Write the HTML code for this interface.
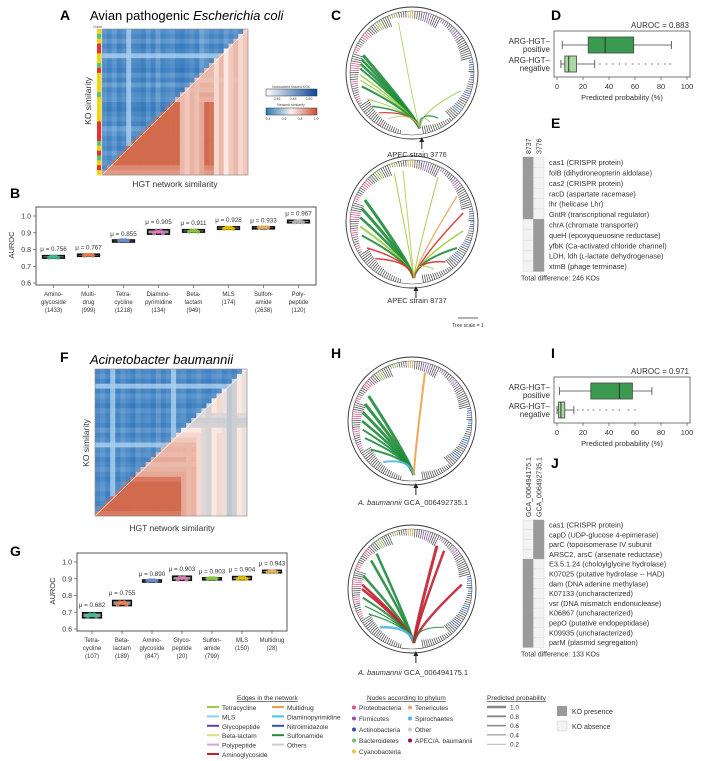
<!DOCTYPE html>
<html><head><meta charset="utf-8">
<style>
html,body{margin:0;padding:0;background:#fff;}
svg{display:block;font-family:"Liberation Sans",Arial,sans-serif;}
</style></head>
<body>
<svg id="fig" width="701" height="761" viewBox="0 0 701 761" xmlns="http://www.w3.org/2000/svg">
<g id="static">
<text x="60" y="20" font-size="14" font-weight="bold">A</text>
<text x="90" y="20" font-size="13">Avian pathogenic <tspan font-style="italic">Escherichia coli</tspan></text>
<text x="93" y="28" font-size="3.5" fill="#555">Clade</text>
<text x="175" y="187" font-size="8.5" text-anchor="middle" fill="#333">HGT network similarity</text>
<text x="0" y="0" font-size="8.5" text-anchor="middle" fill="#333" transform="translate(91,101) rotate(-90)">KO similarity</text>
<text x="10" y="198" font-size="14" font-weight="bold">B</text>
<text x="331" y="20" font-size="14" font-weight="bold">C</text>
<text x="417" y="157" font-size="7.5" text-anchor="middle" fill="#333">APEC strain 3776</text>
<text x="417" y="303" font-size="7.5" text-anchor="middle" fill="#333">APEC strain 8737</text>
<line x1="458" y1="318" x2="478" y2="318" stroke="#333" stroke-width="0.8"/>
<text x="468" y="327" font-size="5" text-anchor="middle" fill="#333">Tree scale = 1</text>
<text x="551" y="20" font-size="14" font-weight="bold">D</text>
<text x="551" y="128" font-size="14" font-weight="bold">E</text>
<text x="60" y="362" font-size="14" font-weight="bold">F</text>
<text x="90" y="364" font-size="13" font-style="italic">Acinetobacter baumannii</text>
<text x="172" y="531" font-size="8.5" text-anchor="middle" fill="#333">HGT network similarity</text>
<text x="0" y="0" font-size="8.5" text-anchor="middle" fill="#333" transform="translate(89,443) rotate(-90)">KO similarity</text>
<text x="10" y="556" font-size="14" font-weight="bold">G</text>
<text x="331" y="358" font-size="14" font-weight="bold">H</text>
<text x="413" y="505" font-size="7.5" text-anchor="middle" fill="#333"><tspan font-style="italic">A. baumannii</tspan> GCA_006492735.1</text>
<text x="413" y="675" font-size="7.5" text-anchor="middle" fill="#333"><tspan font-style="italic">A. baumannii</tspan> GCA_006494175.1</text>
<text x="551" y="358" font-size="14" font-weight="bold">I</text>
<text x="551" y="468" font-size="14" font-weight="bold">J</text>
</g>
</svg>
<script>
const NS='http://www.w3.org/2000/svg';
const svg=document.getElementById('fig');
function mk(tag,attrs,parent,text){const e=document.createElementNS(NS,tag);for(const k in attrs)e.setAttribute(k,attrs[k]);if(text!==undefined)e.textContent=text;(parent||svg).appendChild(e);return e;}

/* ---------- Panel B data ---------- */
const bCats=['Amino-|glycoside|(1433)','Multi-|drug|(999)','Tetra-|cycline|(1218)','Diamino-|pyrimidine|(134)','Beta-|lactam|(949)','MLS|(174)','Sulfon-|amide|(2638)','Poly-|peptide|(120)'];
const bMeans=[0.756,0.767,0.855,0.905,0.911,0.928,0.933,0.967];
const bSpread=[0.012,0.008,0.003,0.022,0.012,0.012,0.004,0.012];
const bColors=['#3cbf8f','#f07f50','#6f8fd8','#e07ab8','#8ccf3f','#f0c800','#e8b860','#b8b8b8'];
/* ---------- Panel G data ---------- */
const gCats=['Tetra-|cycline|(107)','Beta-|lactam|(189)','Amino-|glycoside|(847)','Glyco-|peptide|(20)','Sulfon-|amide|(799)','MLS|(150)','Multidrug|(28)'];
const gMeans=[0.682,0.755,0.890,0.903,0.903,0.904,0.943];
const gSpread=[0.025,0.025,0.004,0.02,0.004,0.015,0.012];
const gColors=['#3cbf8f','#f07f50','#6f8fd8','#e07ab8','#8ccf3f','#f0c800','#e8b860'];
const aurocTicks=[0.6,0.7,0.8,0.9,1.0];

function auroc(name,box,cats,means,spread,colors){
  const g=mk('g',{});
  
  
  const y=v=>box.y1-(v-0.6)/0.4*(box.y1-box.y0t);
  const x=i=>box.x0+(i+0.5)*(box.x1-box.x0)/cats.length;
  const r=mk('rect',{x:box.x0,y:box.top,width:box.x1-box.x0,height:box.y1-box.top+2,fill:'none',stroke:'#555','stroke-width':1},g);
  
  aurocTicks.forEach(t=>{
    mk('line',{x1:box.x0-3,x2:box.x0,y1:y(t),y2:y(t),stroke:'#555','stroke-width':0.7},g);
    const tl=mk('text',{x:box.x0-5,y:y(t)+2.5,'font-size':7,'text-anchor':'end',fill:'#333'},g,t.toFixed(1));
    
  });
  const yt=mk('text',{x:0,y:0,'font-size':7.5,'text-anchor':'middle',fill:'#333',transform:`translate(${box.x0-22},${(box.top+box.y1)/2}) rotate(-90)`},g,'AUROC');
  
  const bw=(box.x1-box.x0)/cats.length*0.62;
  cats.forEach((c,i)=>{
    const cx=x(i),m=means[i],s=spread[i];
    mk('line',{x1:cx,x2:cx,y1:box.y1+2,y2:box.y1+5,stroke:'#555','stroke-width':0.7},g);
    const b=mk('rect',{x:cx-bw/2,y:y(m+s*0.6),width:bw,height:Math.max(2,y(m-s*0.6)-y(m+s*0.6)),fill:'#999',stroke:'#111','stroke-width':1.6},g);
    
    for(let k=-2;k<=2;k++){
      const d=mk('circle',{cx:cx+k*2.2,cy:y(m+(k%2?1:-1)*s*0.4*(Math.abs(k)/2)),r:2,fill:colors[i],opacity:0.85},g);
      
    }
    const ml=mk('text',{x:cx,y:y(m+s)-4,'font-size':6.3,'text-anchor':'middle',fill:'#333'},g,'μ = '+m.toFixed(3));
    
    c.split('|').forEach((ln,j)=>{
      const t=mk('text',{x:cx,y:box.y1+13+j*8,'font-size':6,'text-anchor':'middle',fill:'#333'},g,ln);
      
    });
  });
}
auroc('panel-b-auroc-chart',{x0:36,x1:316,top:207,y0t:216,y1:283},bCats,bMeans,bSpread,bColors);
auroc('panel-g-auroc-chart',{x0:77,x1:287,top:553,y0t:562,y1:629},gCats,gMeans,gSpread,gColors);

/* ---------- Heatmaps A and F ---------- */
const aKO=[0.6,0.8,0.5,0.9,0.7,0.2,0.75,0.8,0.95,0.55,0.9,0.4,0.85,0.7,0.6,0.9,1,0.8,0.65,0.9,0.3,0.6,0.85,0.7,0.9,0.5,0.8,0.6,0.9,0.7];
const aRedRow=[0.7,0.72,0.75,0.95,0.92,0.9,0.85,0.72,0.7,0.7,0.68,0.72,0.7,0.75,0.72,0.95,0.95,0.95,0.95,0.95,0.95,0.95,0.95,0.95,0.95,0.95,0.95,0.95,0.85,0.8];
const aRedCol=[0.95,0.95,0.95,0.95,0.95,0.95,0.95,0.95,0.95,0.95,0.95,0.95,0.95,0.95,0.95,0.95,0.7,0.65,0.72,0.68,0.75,0.95,0.92,0.6,0.7,0.55,0.65,0.7,0.6,0.65];
const aClade=['#f2d600','#60c070','#f2d600','#e83030','#e83030','#f2d600','#f2d600','#60c070','#e83030','#f2d600','#f2d600','#f2d600','#f2d600','#60c070','#f2d600','#f2d600','#f2d600','#f2d600','#f2d600','#e83030','#e83030','#e83030','#e83030','#60c070','#f2d600','#e83030','#60c070','#f2d600','#e83030','#f2d600'];
const fKO=[0.8,0.6,0.9,0.2,0.85,0.55,0.75,0.95,0.6,0.8,0.7,0.9,0.5,0.85,0.65,0.1,0.7,0.6,0.9,0.75,0.55,0.8,0.9,0.7,0.6,0.85,0.7,0.9,0.6,0.8];
const fRedRow=[0.7,0.7,0.95,0.95,0.9,0.95,0.95,0.95,0.95,0.45,0.4,0.42,0.55,0.6,0.65,0.7,0.72,0.7,0.75,0.7,0.72,0.75,0.9,0.95,0.95,0.95,0.95,0.95,0.95,0.9];
const fRedCol=[0.95,0.95,0.95,0.95,0.95,0.95,0.95,0.95,0.95,0.95,0.95,0.95,0.95,0.95,0.95,0.95,0.95,0.75,0.7,0.72,0.6,0.45,0.42,0.55,0.6,0.5,0.35,0.4,0.55,0.5];
function blue(v){const u=Math.min(1,Math.max(0,v));return `rgb(${Math.round(175-150*u)},${Math.round(210-110*u)},${Math.round(240-65*u)})`;}
function red(v){const t=Math.min(1,Math.max(0,v));if(t>0.55){const u=(t-0.55)/0.45;return `rgb(${Math.round(250-(250-205)*u)},${Math.round(232-(232-90)*u)},${Math.round(225-(225-60)*u)})`;}const u=t/0.55;return `rgb(${Math.round(90+160*u)},${Math.round(140+92*u)},${Math.round(175+50*u)})`;}
function heat(name,x0,y0,w,h,ko,rr,rc,clade){
  const g=mk('g',{});
  
  const n=ko.length,cw=w/n,ch=h/n;
  for(let r=0;r<n;r++)for(let c=0;c<n;c++){
    const col=(r+c<n-1)?blue((ko[r]+ko[c])/2*(ko[r]<0.25||ko[c]<0.25?0.3:0.85)):red(Math.min(rr[r],rc[c]));
    const e=mk('rect',{x:x0+c*cw,y:y0+r*ch,width:cw+0.3,height:ch+0.3,fill:col},g);
    
  }
  if(clade){clade.forEach((c,i)=>{const e=mk('rect',{x:x0-5,y:y0+i*ch,width:4,height:ch+0.3,fill:c},g);});}
  mk('line',{x1:x0,y1:y0+h,x2:x0+w,y2:y0,stroke:'#fff','stroke-width':0.6},g);
  mk('rect',{x:x0,y:y0,width:w,height:h,fill:'none',stroke:'#888','stroke-width':0.6},g);
}
heat('panel-a-heatmap',102,29,146,146,aKO,aRedRow,aRedCol,aClade);
heat('panel-f-heatmap',95,369,152,147,fKO,fRedRow,fRedCol,null);

/* color bar legends for A */
(function(){
  const g=mk('g',{});
  const d1=mk('defs',{},g);
  const lg1=mk('linearGradient',{id:'gb'},d1);mk('stop',{offset:'0','stop-color':'#fff'},lg1);mk('stop',{offset:'1','stop-color':'#0a4696'},lg1);
  const lg2=mk('linearGradient',{id:'gr'},d1);mk('stop',{offset:'0','stop-color':'#2a7ab0'},lg2);mk('stop',{offset:'0.5','stop-color':'#f7f0ee'},lg2);mk('stop',{offset:'1','stop-color':'#c85030'},lg2);
  mk('text',{x:291,y:88,'font-size':3.5,'text-anchor':'middle',fill:'#444'},g,'Normalized shared KOs');
  mk('rect',{x:266,y:89,width:51,height:7,fill:'url(#gb)',stroke:'#333','stroke-width':0.5},g);
  mk('text',{x:291,y:106,'font-size':3.5,'text-anchor':'middle',fill:'#444'},g,'Network similarity');
  mk('rect',{x:266,y:108,width:51,height:7,fill:'url(#gr)',stroke:'#333','stroke-width':0.5},g);
  ['0.46','0.48','0.50'].forEach((t,i)=>mk('text',{x:277+i*16,y:100,'font-size':3.5,'text-anchor':'middle',fill:'#444'},g,t));
  ['0.4','0.6','0.8','1.0'].forEach((t,i)=>mk('text',{x:268+i*16,y:120,'font-size':3.5,'text-anchor':'middle',fill:'#444'},g,t));
})();

/* ---------- Circular networks ---------- */
const cTopEdges=[[200,'#1e8c3a',3],[195,'#1e8c3a',2.5],[190,'#1e8c3a',2.5],[185,'#1e8c3a',2],[178,'#9acd40',1.5],[172,'#9acd40',1.2],[165,'#1e8c3a',2],[150,'#9acd40',1],[140,'#1e8c3a',1.5],[130,'#d83030',1.2],[118,'#c8c850',1],[255,'#9acd40',0.8],[20,'#9acd40',1],[60,'#1e8c3a',1.2],[70,'#aaa',1]];
const cBotEdges=[[205,'#1e8c3a',3],[195,'#1e8c3a',3],[185,'#1e8c3a',2.5],[175,'#9acd40',2],[165,'#1e8c3a',2],[150,'#d83030',1.5],[135,'#d83030',1.5],[250,'#9acd40',1],[260,'#c8c850',1],[300,'#9acd40',1],[330,'#e8a050',1.2],[350,'#d83030',1.5],[10,'#9acd40',1.5],[30,'#1e8c3a',2],[50,'#d83030',1.5],[65,'#9acd40',1]];
const hTopEdges=[[210,'#1e8c3a',3],[200,'#1e8c3a',3],[190,'#1e8c3a',3],[180,'#1e8c3a',2.5],[170,'#1e8c3a',2],[160,'#1e8c3a',2],[145,'#1e8c3a',2],[125,'#4fb8e0',2],[285,'#f0a040',2]];
const hBotEdges=[[225,'#1e8c3a',2.5],[215,'#1e8c3a',2.5],[195,'#1e8c3a',2.5],[185,'#c02030',2.5],[180,'#c02030',2.5],[170,'#1e8c3a',2],[160,'#1e8c3a',1.2],[150,'#1e8c3a',1.2],[130,'#4fb8e0',2.5],[300,'#c02030',3],[310,'#c02030',2.5],[355,'#c02030',2.5],[50,'#1e8c3a',1]];
const arcColors=[['#d84a80',150,230],['#70a030',230,260],['#c8a030',265,280],['#8050a0',280,330],['#3050a0',340,40]];
function circ(name,cx,cy,r,edges,endAng){
  const g=mk('g',{});
  const pt=(a,rr)=>[cx+rr*Math.cos(a*Math.PI/180),cy+rr*Math.sin(a*Math.PI/180)];
  mk('circle',{cx,cy,r,fill:'none',stroke:'#333','stroke-width':0.9},g);
  mk('circle',{cx,cy,r:r-4,fill:'none',stroke:'#555','stroke-width':0.6},g);
  for(let a=0;a<360;a+=2.2){
    if(a>80&&a<100)continue;
    const L=4+((a*37)%9);
    const [x1,y1]=pt(a,r-4),[x2,y2]=pt(a,r-4-L*0.9);
    let col='#444';arcColors.forEach(([c,s,e])=>{const inr=s<e?(a>=s&&a<=e):(a>=s||a<=e);if(inr&&((a*7)%3<1.5))col=c;});
    const l=mk('line',{x1,y1,x2,y2,stroke:col,'stroke-width':0.7},g);
    
  }
  const [ex,ey]=pt(endAng,r-10);
  edges.forEach(([a,col,w])=>{
    const [sx,sy]=pt(a,r-14);
    const p=mk('path',{d:`M${sx},${sy} Q${(cx+ex)/2+(sx-cx)*0.1},${(cy+ey)/2+10} ${ex},${ey}`,fill:'none',stroke:col,'stroke-width':w,'stroke-opacity':0.9},g);
    
  });
  mk('line',{x1:ex+2,y1:cy+r+10,x2:ex+2,y2:cy+r,stroke:'#222','stroke-width':1},g);
  mk('path',{d:`M${ex-0.5},${cy+r+3} L${ex+2},${cy+r-2} L${ex+4.5},${cy+r+3} Z`,fill:'#222'},g);
}
circ('panel-c-network-3776',412,73,66,cTopEdges,82);
circ('panel-c-network-8737',412,222,66,cBotEdges,88);
circ('panel-h-network-6492735',412,421,64,hTopEdges,88);
circ('panel-h-network-6494175',412,589,64,hBotEdges,88);

/* ---------- Probability box plots D & I ---------- */
const dGroups=['ARG-HGT–|positive','ARG-HGT–|negative'];
const dStats=[[4,24,37,59,88],[3,6,9,15,29]];
const dOut=[33,38,43,48,53,58,63,68,73,78,83,87];
const iStats=[[2,26,48,58,73],[0,1,3,6,13]];
const iOut=[16,20,24,28,33,38,43,48,55,60];
const probTicks=[0,20,40,60,80,100];
function probBox(name,top,auroc,stats,outs,fills){
  const g=mk('g',{});
  const x0=557,x1=687,x=v=>x0+v/100*(x1-x0);const bottom=top+46;
  mk('rect',{x:x0-3,y:top,width:x1-x0+6,height:bottom-top,fill:'none',stroke:'#555','stroke-width':0.8},g);
  const at=mk('text',{x:x1+2,y:top-3,'font-size':8,'text-anchor':'end',fill:'#333'},g,'AUROC = '+auroc);
  
  probTicks.forEach(t=>{mk('line',{x1:x(t),x2:x(t),y1:bottom,y2:bottom+3,stroke:'#555','stroke-width':0.7},g);
    const tl=mk('text',{x:x(t),y:bottom+12,'font-size':7.5,'text-anchor':'middle',fill:'#333'},g,String(t));});
  const xt=mk('text',{x:(x0+x1)/2,y:bottom+23,'font-size':7.5,'text-anchor':'middle',fill:'#333'},g,'Predicted probability (%)');
  
  stats.forEach((s,i)=>{
    const cy=top+14+i*19;
    mk('line',{x1:x(s[0]),x2:x(s[1]),y1:cy,y2:cy,stroke:'#444','stroke-width':0.8},g);
    mk('line',{x1:x(s[3]),x2:x(s[4]),y1:cy,y2:cy,stroke:'#444','stroke-width':0.8},g);
    mk('line',{x1:x(s[0]),x2:x(s[0]),y1:cy-4,y2:cy+4,stroke:'#444','stroke-width':0.8},g);
    mk('line',{x1:x(s[4]),x2:x(s[4]),y1:cy-4,y2:cy+4,stroke:'#444','stroke-width':0.8},g);
    const b=mk('rect',{x:x(s[1]),y:cy-8,width:x(s[3])-x(s[1]),height:16,fill:fills[i],stroke:'#444','stroke-width':0.8},g);
    
    mk('line',{x1:x(s[2]),x2:x(s[2]),y1:cy-8,y2:cy+8,stroke:'#333','stroke-width':1},g);
    dGroups[i].split('|').forEach((ln,j)=>{const t=mk('text',{x:x0-7,y:cy-1+j*8,'font-size':8,'text-anchor':'end',fill:'#333'},g,ln);});
  });
  outs.forEach(o=>{const c=mk('circle',{cx:x(o),cy:top+33,r:0.9,fill:'#999'},g);});
}
probBox('panel-d-boxplot',31,'0.883',dStats,dOut,['#3a9a50','#a8d8a0']);
probBox('panel-i-boxplot',377,'0.971',iStats,iOut,['#3a9a50','#a8d8a0']);

/* ---------- KO presence tables E & J ---------- */
const eCols=['8737','3776'];
const eRows=['cas1 (CRISPR protein)','folB (dihydroneopterin aldolase)','cas2 (CRISPR protein)','racD (aspartate racemase)','lhr (helicase Lhr)','GntR (transcriptional regulator)','chrA (chromate transporter)','queH (epoxyqueuosine reductase)','yfbK (Ca-activated chloride channel)','LDH, ldh (ʟ-lactate dehydrogenase)','xtmB (phage terminase)'];
const ePresence=[[1,0],[1,0],[1,0],[1,0],[1,0],[1,0],[0,1],[0,1],[0,1],[0,1],[0,1]];
const jCols=['GCA_006494175.1','GCA_006492735.1'];
const jRows=['cas1 (CRISPR protein)','capD (UDP-glucose 4-epimerase)','parC (topoisomerase IV subunit','ARSC2, arsC (arsenate reductase)','E3.5.1.24 (choloylglycine hydrolase)','K07025 (putative hydrolase -- HAD)','dam (DNA adenine methylase)','K07133 (uncharacterized)','vsr (DNA mismatch endonuclease)','K06867 (uncharacterized)','pepO (putative endopeptidase)','K09935 (uncharacterized)','parM (plasmid segregation)'];
const jPresence=[[0,1],[0,1],[0,1],[0,1],[1,0],[1,0],[1,0],[1,0],[1,0],[1,0],[1,0],[1,0],[1,0]];
function koTable(name,y0,rh,cols,rows,pres,total){
  const g=mk('g',{});
  const x0=523,cw=10.5;
  cols.forEach((c,j)=>{const t=mk('text',{x:0,y:0,'font-size':7,fill:'#333',transform:`translate(${x0+cw*j+8},${y0-3}) rotate(-90)`},g,c);});
  rows.forEach((r,i)=>{
    pres[i].forEach((p,j)=>{const c=mk('rect',{x:x0+j*cw,y:y0+i*rh,width:cw,height:rh,fill:p?'#9a9a9a':'#f2f2f2',stroke:p?'#9a9a9a':'#ddd','stroke-width':0.5},g);});
    const t=mk('text',{x:x0+2*cw+5,y:y0+i*rh+rh-2.3,'font-size':7.3,fill:'#333'},g,r);
  });
  const t=mk('text',{x:x0-2,y:y0+rows.length*rh+9,'font-size':7,fill:'#333'},g,'Total difference: '+total+' KOs');
  
}
koTable('panel-e-ko-table',157,10.4,eCols,eRows,ePresence,246);
koTable('panel-j-ko-table',520,9.8,jCols,jRows,jPresence,133);

/* ---------- Legend ---------- */
(function(){
  const g=mk('g',{});
  const ul=(x,y,t)=>{const e=mk('text',{x,y,'font-size':6.5,fill:'#333','text-decoration':'underline'},g,t);};
  ul(237,700,'Edges in the network');ul(367,700,'Nodes according to phylum');ul(487,700,'Predicted probability');
  const ed1=[['Tetracycline','#9acd40'],['MLS','#8fd0f0'],['Glycopeptide','#6040a0'],['Beta-lactam','#dcdc80'],['Polypeptide','#e0a0d8'],['Aminoglycoside','#c02030']];
  const ed2=[['Multidrug','#f0a040'],['Diaminopyrimidine','#40c8d8'],['Nitroimidazole','#3050b0'],['Sulfonamide','#1e8c3a'],['Others','#ccc']];
  ed1.forEach(([t,c],i)=>{mk('line',{x1:207,x2:219,y1:707+i*9.4,y2:707+i*9.4,stroke:c,'stroke-width':2},g);const e=mk('text',{x:222,y:710+i*9.4,'font-size':6.5,fill:'#333'},g,t);});
  ed2.forEach(([t,c],i)=>{mk('line',{x1:272,x2:284,y1:707+i*9.4,y2:707+i*9.4,stroke:c,'stroke-width':2},g);const e=mk('text',{x:287,y:710+i*9.4,'font-size':6.5,fill:'#333'},g,t);});
  const n1=[['Proteobacteria','#e05080'],['Firmicutes','#9050b0'],['Actinobacteria','#3050b0'],['Bacteroidetes','#70c070'],['Cyanobacteria','#f0c040']];
  const n2=[['Tenericutes','#f0a070'],['Spirochaetes','#40b8e8'],['Other','#ccc'],['APEC/A. baumannii','#a01030']];
  n1.forEach(([t,c],i)=>{mk('circle',{cx:354,cy:707.5+i*11,r:2,fill:c},g);const e=mk('text',{x:359,y:710+i*11,'font-size':6.5,fill:'#333'},g,t);});
  n2.forEach(([t,c],i)=>{mk('circle',{cx:410,cy:707.5+i*11,r:2,fill:c},g);const e=mk('text',{x:415,y:710+i*11,'font-size':6.5,fill:'#333'},g,t);});
  ['1.0','0.8','0.6','0.4','0.2'].forEach((t,i)=>{mk('line',{x1:487,x2:506,y1:707+i*9.3,y2:707+i*9.3,stroke:'#888','stroke-width':2.4-i*0.45},g);const e=mk('text',{x:510,y:709.5+i*9.3,'font-size':6.5,fill:'#333'},g,t);});
  mk('rect',{x:557,y:706,width:10,height:10,fill:'#9a9a9a'},g);
  const p=mk('text',{x:572,y:714,'font-size':7,fill:'#333'},g,'KO presence');
  mk('rect',{x:557,y:721,width:10,height:10,fill:'#f2f2f2',stroke:'#ccc','stroke-width':0.5},g);
  const a=mk('text',{x:572,y:729,'font-size':7,fill:'#333'},g,'KO absence');
})();
</script>
</body></html>
